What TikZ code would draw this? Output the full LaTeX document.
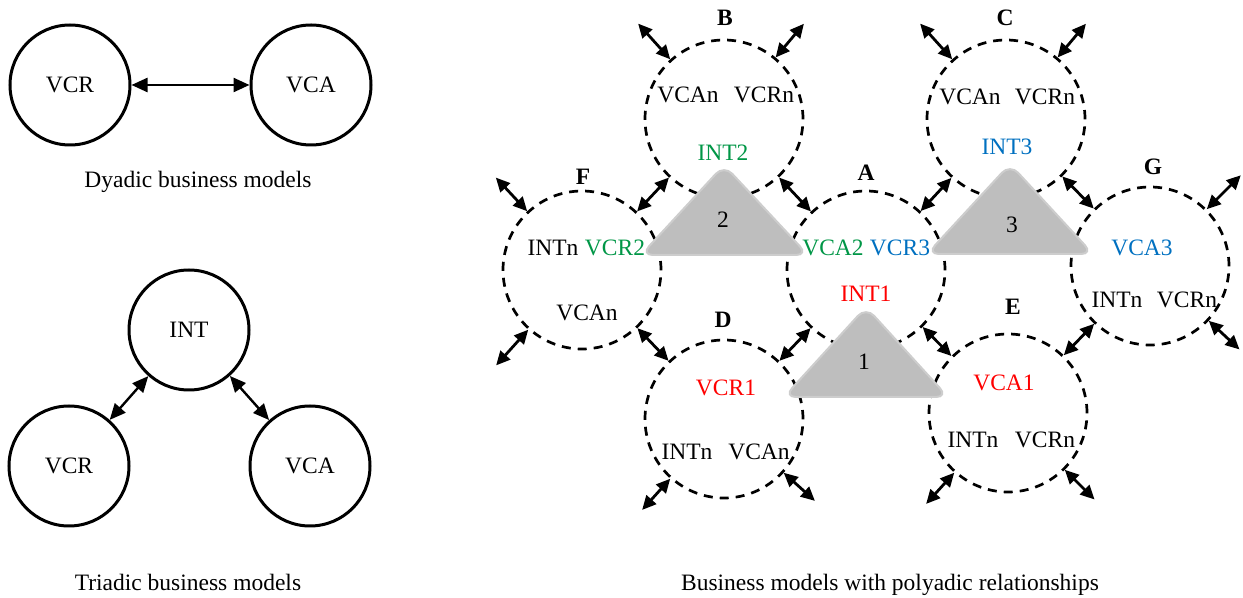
\documentclass[tikz,border=0pt]{standalone}
\usepackage{fontspec}
\setmainfont{Liberation Serif}
\usetikzlibrary{arrows.meta}
\definecolor{grn}{RGB}{0,150,70}
\definecolor{blu}{RGB}{0,112,192}
\definecolor{rd}{RGB}{255,0,0}
\definecolor{trifill}{RGB}{190,190,190}
\definecolor{triedge}{RGB}{205,205,205}
\tikzset{
  txt/.style={font=\fontsize{11.75}{14}\selectfont, inner sep=0pt},
  lbl/.style={font=\fontsize{11.75}{14}\selectfont\bfseries, inner sep=0pt},
  solidc/.style={circle, draw, line width=1.5pt, minimum size=60pt, inner sep=0pt,
    font=\fontsize{11.75}{14}\selectfont},
  dashc/.style={circle, draw, line width=1.35pt, dash pattern=on 4.5pt off 3.5pt,
    minimum size=79pt, inner sep=0pt},
  biarrow/.style={line width=1.4pt,
    {Triangle[length=7pt,width=6.5pt]}-{Triangle[length=7pt,width=6.5pt]}},
  bigarrow/.style={line width=1.2pt,
    {Triangle[length=8pt,width=7pt]}-{Triangle[length=8pt,width=7pt]}},
  tri/.style={fill=trifill, draw=triedge, line width=1pt, rounded corners=6pt},
}
\begin{document}
\begin{tikzpicture}[x=0.5pt,y=-0.5pt]
\useasboundingbox (0,0) rectangle (1243,598);

% ---- dyadic model ----
\node[solidc] (dR) at (70,85) {VCR};
\node[solidc] (dA) at (311,85) {VCA};
\draw[bigarrow] (dR) -- (dA);
\node[txt] (dcap) at (198,182) {Dyadic business models};

% ---- triadic model ----
\node[solidc] (tI) at (189,330) {INT};
\node[solidc] (tR) at (69,466) {VCR};
\node[solidc] (tA) at (310,466) {VCA};
\draw[bigarrow] (tI) -- (tR);
\draw[bigarrow] (tI) -- (tA);
\node[txt] (tcap) at (188,582) {Triadic business models};

% ---- polyadic model: actors ----
\node[dashc] (F) at (582,270) {};
\node[dashc] (B) at (724,119) {};
\node[dashc] (A) at (866,270) {};
\node[dashc] (C) at (1006,119) {};
\node[dashc] (G) at (1150,266) {};
\node[dashc] (D) at (724,419) {};
\node[dashc] (E) at (1008,413) {};

% links between neighbouring actors
\draw[biarrow] (B) -- (F);
\draw[biarrow] (B) -- (A);
\draw[biarrow] (C) -- (A);
\draw[biarrow] (C) -- (G);
\draw[biarrow] (F) -- (D);
\draw[biarrow] (A) -- (D);
\draw[biarrow] (A) -- (E);
\draw[biarrow] (G) -- (E);

% links to further actors
\draw[biarrow] (B.132) -- ++(132:24pt);
\draw[biarrow] (B.50) -- ++(50:22pt);
\draw[biarrow] (C.132) -- ++(132:24pt);
\draw[biarrow] (C.50) -- ++(50:22pt);
\draw[biarrow] (F.133) -- ++(133:23pt);
\draw[biarrow] (F.228) -- ++(228:24pt);
\draw[biarrow] (G.45) -- ++(45:24pt);
\draw[biarrow] (G.-43) -- ++(-43:21pt);
\draw[biarrow] (D.228) -- ++(228:21pt);
\draw[biarrow] (D.-42) -- ++(-42:21pt);
\draw[biarrow] (E.228) -- ++(228:21pt);
\draw[biarrow] (E.-45) -- ++(-45:21pt);

% intermediaries
\draw[tri] (724,165) -- (808,255) -- (641,255) -- cycle;
\draw[tri] (1010,164) -- (1093,254) -- (927,254) -- cycle;
\draw[tri] (866,307) -- (948,397) -- (784,397) -- cycle;
\node[txt] (n2) at (723,220) {2};
\node[txt] (n3) at (1012,225) {3};
\node[txt] (n1) at (864,362) {1};

% actor letters
\node[lbl] (lB) at (725,18) {B};
\node[lbl] (lC) at (1005,18) {C};
\node[lbl] (lF) at (583,177) {F};
\node[lbl] (lA) at (866,173) {A};
\node[lbl] (lG) at (1153,167) {G};
\node[lbl] (lD) at (723,320) {D};
\node[lbl] (lE) at (1013,307) {E};

% roles inside the actors
\node[txt] (b1) at (688,95) {VCAn};
\node[txt] (b2) at (764,95) {VCRn};
\node[txt, text=grn] (i2) at (723,153) {INT2};
\node[txt] (c1) at (970,97) {VCAn};
\node[txt] (c2) at (1045,97) {VCRn};
\node[txt, text=blu] (i3) at (1007,147) {INT3};
\node[txt] (f1) at (553,248) {INTn};
\node[txt, text=grn] (f2) at (615,248) {VCR2};
\node[txt] (f3) at (587,313) {VCAn};
\node[txt, text=grn] (a1) at (833,248) {VCA2};
\node[txt, text=blu] (a2) at (900,248) {VCR3};
\node[txt, text=rd] (a3) at (866,294) {INT1};
\node[txt, text=blu] (g1) at (1142,248) {VCA3};
\node[txt] (g2) at (1117,300) {INTn};
\node[txt] (g3) at (1187,300) {VCRn};
\node[txt, text=rd] (d1) at (726,388) {VCR1};
\node[txt] (d2) at (687,452) {INTn};
\node[txt] (d3) at (759,452) {VCAn};
\node[txt, text=rd] (e1) at (1004,383) {VCA1};
\node[txt] (e2) at (973,440) {INTn};
\node[txt] (e3) at (1045,440) {VCRn};

\node[txt] (pcap) at (890,585) {Business models with polyadic relationships};
\end{tikzpicture}
\end{document}
